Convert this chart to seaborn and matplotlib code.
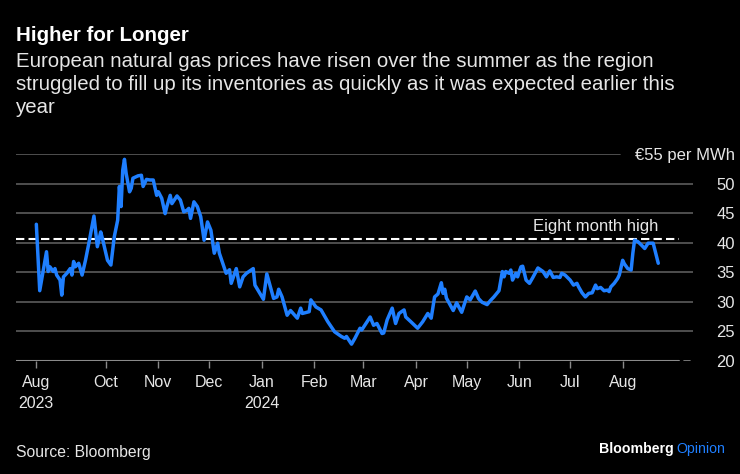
import pandas as pd
import matplotlib.pyplot as plt
import seaborn as sns

# TTF front-month gas price, EUR per MWh
dates = [
    "2023-08-21", "2023-08-23", "2023-08-27", "2023-08-28", "2023-08-29", "2023-08-31",
    "2023-09-01", "2023-09-02", "2023-09-04", "2023-09-05", "2023-09-06", "2023-09-08",
    "2023-09-10", "2023-09-11", "2023-09-12", "2023-09-13", "2023-09-15", "2023-09-17",
    "2023-09-19", "2023-09-21", "2023-09-24", "2023-09-26", "2023-09-28", "2023-09-29",
    "2023-10-02", "2023-10-04", "2023-10-06", "2023-10-08", "2023-10-09", "2023-10-10",
    "2023-10-11", "2023-10-12", "2023-10-13", "2023-10-15", "2023-10-16", "2023-10-17",
    "2023-10-20", "2023-10-22", "2023-10-23", "2023-10-25", "2023-10-27", "2023-10-29",
    "2023-10-31", "2023-11-01", "2023-11-03", "2023-11-05", "2023-11-06", "2023-11-08",
    "2023-11-09", "2023-11-12", "2023-11-14", "2023-11-16", "2023-11-18", "2023-11-19",
    "2023-11-20", "2023-11-22", "2023-11-24", "2023-11-26", "2023-11-28", "2023-11-30",
    "2023-12-02", "2023-12-04", "2023-12-06", "2023-12-07", "2023-12-09", "2023-12-11",
    "2023-12-13", "2023-12-14", "2023-12-17", "2023-12-19", "2023-12-21", "2023-12-23",
    "2023-12-27", "2023-12-28", "2024-01-02", "2024-01-04", "2024-01-08", "2024-01-10",
    "2024-01-11", "2024-01-13", "2024-01-16", "2024-01-18", "2024-01-22", "2024-01-24",
    "2024-01-25", "2024-01-29", "2024-01-30", "2024-02-02", "2024-02-05", "2024-02-09",
    "2024-02-13", "2024-02-17", "2024-02-19", "2024-02-20", "2024-02-23", "2024-02-25",
    "2024-02-28", "2024-02-29", "2024-03-05", "2024-03-07", "2024-03-09", "2024-03-12",
    "2024-03-13", "2024-03-15", "2024-03-18", "2024-03-20", "2024-03-22", "2024-03-25",
    "2024-03-26", "2024-03-29", "2024-04-02", "2024-04-05", "2024-04-08", "2024-04-10",
    "2024-04-12", "2024-04-14", "2024-04-16", "2024-04-17", "2024-04-18", "2024-04-19",
    "2024-04-23", "2024-04-25", "2024-04-28", "2024-05-01", "2024-05-03", "2024-05-06",
    "2024-05-08", "2024-05-10", "2024-05-13", "2024-05-15", "2024-05-17", "2024-05-20",
    "2024-05-22", "2024-05-23", "2024-05-24", "2024-05-26", "2024-05-27", "2024-05-28",
    "2024-05-30", "2024-05-31", "2024-06-01", "2024-06-02", "2024-06-03", "2024-06-05",
    "2024-06-07", "2024-06-09", "2024-06-12", "2024-06-15", "2024-06-17", "2024-06-19",
    "2024-06-21", "2024-06-23", "2024-06-25", "2024-06-26", "2024-06-28", "2024-07-01",
    "2024-07-03", "2024-07-05", "2024-07-06", "2024-07-08", "2024-07-10", "2024-07-12",
    "2024-07-14", "2024-07-16", "2024-07-17", "2024-07-19", "2024-07-21", "2024-07-23",
    "2024-07-24", "2024-07-25", "2024-07-27", "2024-07-29", "2024-07-30", "2024-08-01",
    "2024-08-02", "2024-08-04", "2024-08-06", "2024-08-07", "2024-08-08", "2024-08-10",
    "2024-08-12", "2024-08-14", "2024-08-16", "2024-08-19", "2024-08-21", "2024-08-22",
]
prices = [
    43.1, 31.85, 38.45, 35.1, 35.9, 35.1,
    35.6, 34.5, 33.65, 31.1, 34.2, 34.8,
    35.6, 34.5, 36.8, 35.9, 36.5, 34.5,
    37.0, 39.9, 44.5, 39.3, 41.8, 40.7,
    37.0, 36.2, 41.0, 43.8, 49.5, 46.1,
    52.3, 54.1, 51.7, 48.6, 49.2, 50.9,
    51.3, 51.4, 49.5, 50.7, 50.6, 50.6,
    48.0, 48.6, 47.5, 44.9, 46.1, 48.0,
    46.6, 47.9, 47.2, 45.2, 45.5, 45.8,
    44.1, 46.9, 46.1, 44.4, 40.4, 43.5,
    42.1, 38.2, 39.9, 38.2, 36.5, 34.8,
    35.4, 33.1, 35.6, 32.5, 34.2, 34.8,
    35.6, 32.8, 30.4, 34.7, 30.55, 30.8,
    32.1, 30.8, 27.7, 28.5, 27.2, 28.9,
    28.0, 28.3, 30.3, 29.1, 28.6, 26.6,
    24.9, 24.1, 23.8, 24.1, 22.8, 23.8,
    25.5, 25.2, 27.4, 26.0, 26.3, 24.6,
    24.7, 26.9, 28.9, 26.3, 28.0, 28.6,
    27.4, 26.6, 25.5, 26.6, 28.0, 27.2,
    30.8, 31.3, 33.2, 31.4, 32.1, 30.6,
    28.5, 29.8, 28.2, 30.8, 30.3, 31.8,
    30.5, 29.9, 29.5, 30.2, 30.8, 31.85,
    35.1, 34.2, 35.1, 34.8, 35.35, 33.65,
    34.8, 34.2, 35.1, 35.9, 36.0, 33.65,
    33.1, 34.1, 35.7, 35.1, 34.2, 35.2,
    34.1, 34.2, 34.1, 34.8, 34.5, 33.65,
    32.8, 33.1, 32.5, 31.5, 30.8, 31.4,
    31.5, 32.8, 32.2, 32.4, 31.85, 31.95,
    31.7, 32.5, 33.1, 33.9, 34.5, 37.0,
    36.4, 35.6, 35.35, 38.2, 40.4, 40.15,
    39.6, 39.0, 39.9, 39.9, 37.6, 36.5,
]
eight_month_high = 40.6

y_ticks = [20, 25, 30, 35, 40, 45, 50, 55]
y_labels = ["20", "25", "30", "35", "40", "45", "50", "€55 per MWh"]
x_ticks = ["2023-08-21", "2023-10-01", "2023-11-01", "2023-12-01", "2024-01-01",
           "2024-02-01", "2024-03-01", "2024-04-01", "2024-05-01", "2024-06-01",
           "2024-07-01", "2024-08-01"]
x_labels = ["Aug\n2023", "Oct", "Nov", "Dec", "Jan\n2024", "Feb", "Mar", "Apr",
            "May", "Jun", "Jul", "Aug"]

df = pd.DataFrame({"date": pd.to_datetime(dates), "price": prices})

sns.set_style("dark")
plt.rcParams["font.family"] = ["Liberation Sans", "DejaVu Sans"]

bg = "black"
blue = "#1f7fff"
grid_col = "#555555"
txt = "#e6e6e6"

fig = plt.figure(figsize=(7.4, 4.74), dpi=100, facecolor=bg)
ax = fig.add_axes([16 / 740, 1 - 360.7 / 474, 677 / 740, 206.7 / 474])
ax.set_facecolor(bg)

# horizontal gridlines (top one shortened for the unit label)
for y in y_ticks[1:-1]:
    ax.axhline(y, color=grid_col, lw=1.3, zorder=1)
ax.axhline(55, xmax=0.892, color=grid_col, lw=1.3, zorder=1)
ax.axhline(20, xmax=0.979, color="#8a8a8a", lw=1.5, zorder=1)
ax.axhline(20, xmin=0.986, xmax=0.995, color="#8a8a8a", lw=1.2, zorder=1)

ax.axhline(eight_month_high, xmax=0.979, color="white", lw=1.5,
           ls=(0, (4, 2)), zorder=2)

sns.lineplot(data=df, x="date", y="price", ax=ax, color=blue, lw=2.5, zorder=3)

ax.text(pd.Timestamp(dates[-1]), 41.9, "Eight month high", color=txt,
        fontsize=12, ha="right", va="baseline")

ax.set_xlim(pd.Timestamp("2023-08-09"), pd.Timestamp("2024-09-11 12:00"))
ax.set_ylim(20, 55)

ax.set_xticks(pd.to_datetime(x_ticks))
ax.set_xticklabels(x_labels, color=txt, fontsize=11.5, linespacing=1.5)
ax.tick_params(axis="x", length=5, width=1, color="#8a8a8a", pad=5, direction="out",
               bottom=True)

ax.yaxis.tick_right()
ax.set_yticks(y_ticks)
ax.set_yticklabels(y_labels, color=txt, fontsize=12, ha="right")
ax.tick_params(axis="y", length=0, pad=30)

ax.set_xlabel("")
ax.set_ylabel("")
ax.grid(False)
for s in ax.spines.values():
    s.set_visible(False)

fig.text(16 / 740, 1 - 41 / 474, "Higher for Longer", color="white",
         fontsize=14.8, fontweight="bold", va="baseline")
subtitle = [
    "European natural gas prices have risen over the summer as the region",
    "struggled to fill up its inventories as quickly as it was expected earlier this",
    "year",
]
for i, line in enumerate(subtitle):
    fig.text(16 / 740, 1 - (67 + 23 * i) / 474, line, color=txt,
             fontsize=14.7, va="baseline")

fig.text(16 / 740, 1 - 457 / 474, "Source: Bloomberg", color=txt,
         fontsize=11.3, va="baseline")
t = fig.text(599 / 740, 1 - 453 / 474, "Bloomberg", color="white",
             fontsize=10.2, fontweight="bold", va="baseline")
fig.canvas.draw()
bb = t.get_window_extent()
fig.text((bb.x1 + 3) / 740, 1 - 453 / 474, "Opinion", color=blue,
         fontsize=10.2, va="baseline")

fig.savefig("out.png", dpi=100, facecolor=bg)
